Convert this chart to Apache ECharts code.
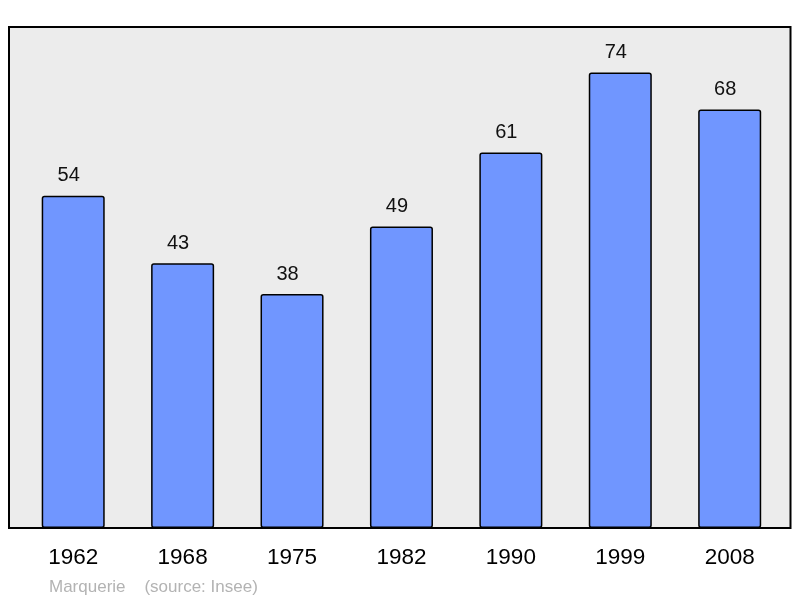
<!DOCTYPE html>
<html><head><meta charset="utf-8">
<script src="https://cdn.jsdelivr.net/npm/echarts@6/dist/echarts.min.js"></script>
<style>html,body{margin:0;padding:0;background:#fff}#c{width:800px;height:598px}</style>
</head><body><div id="c"></div>
<script>
const years = ['1962','1968','1975','1982','1990','1999','2008'];
const population = [54, 43, 38, 49, 61, 74, 68];
const sourceText = 'Marquerie    (source: Insee)';

const chart = echarts.init(document.getElementById('c'), null, {renderer:'canvas'});
const FONT = '"Liberation Sans", Arial, sans-serif';
chart.setOption({
  animation: false,
  backgroundColor: '#ffffff',
  title: {
    text: sourceText, left: 44, top: 573.5,
    textStyle: {color: '#b3b3b3', fontSize: 17, fontWeight: 'normal', fontFamily: FONT}
  },
  grid: [
    {left: 9, right: 9.5, top: 27, bottom: 70, show: true, backgroundColor: '#ececec', borderColor: '#000', borderWidth: 2},
    {left: 18.5, right: 15.6, top: 27, bottom: 70}
  ],
  xAxis: [
    {gridIndex: 0, type: 'value', show: false},
    {gridIndex: 1, type: 'category', data: years,
     axisLine: {show: false}, axisTick: {show: false},
     axisLabel: {margin: 18.5, fontSize: 22.5, color: '#000', fontFamily: FONT}}
  ],
  yAxis: [
    {gridIndex: 0, type: 'value', show: false},
    {gridIndex: 1, type: 'value', min: 0, max: 81.4, show: false}
  ],
  series: [{
    type: 'bar', xAxisIndex: 1, yAxisIndex: 1, data: population,
    barWidth: '57.6%',
    itemStyle: {color: '#7096ff', borderColor: '#000', borderWidth: 1.5, borderRadius: 2},
    label: {show: true, position: 'top', distance: 10, offset: [-4.5, 0], fontSize: 20, color: '#111', fontFamily: FONT}
  }]
});
</script></body></html>
